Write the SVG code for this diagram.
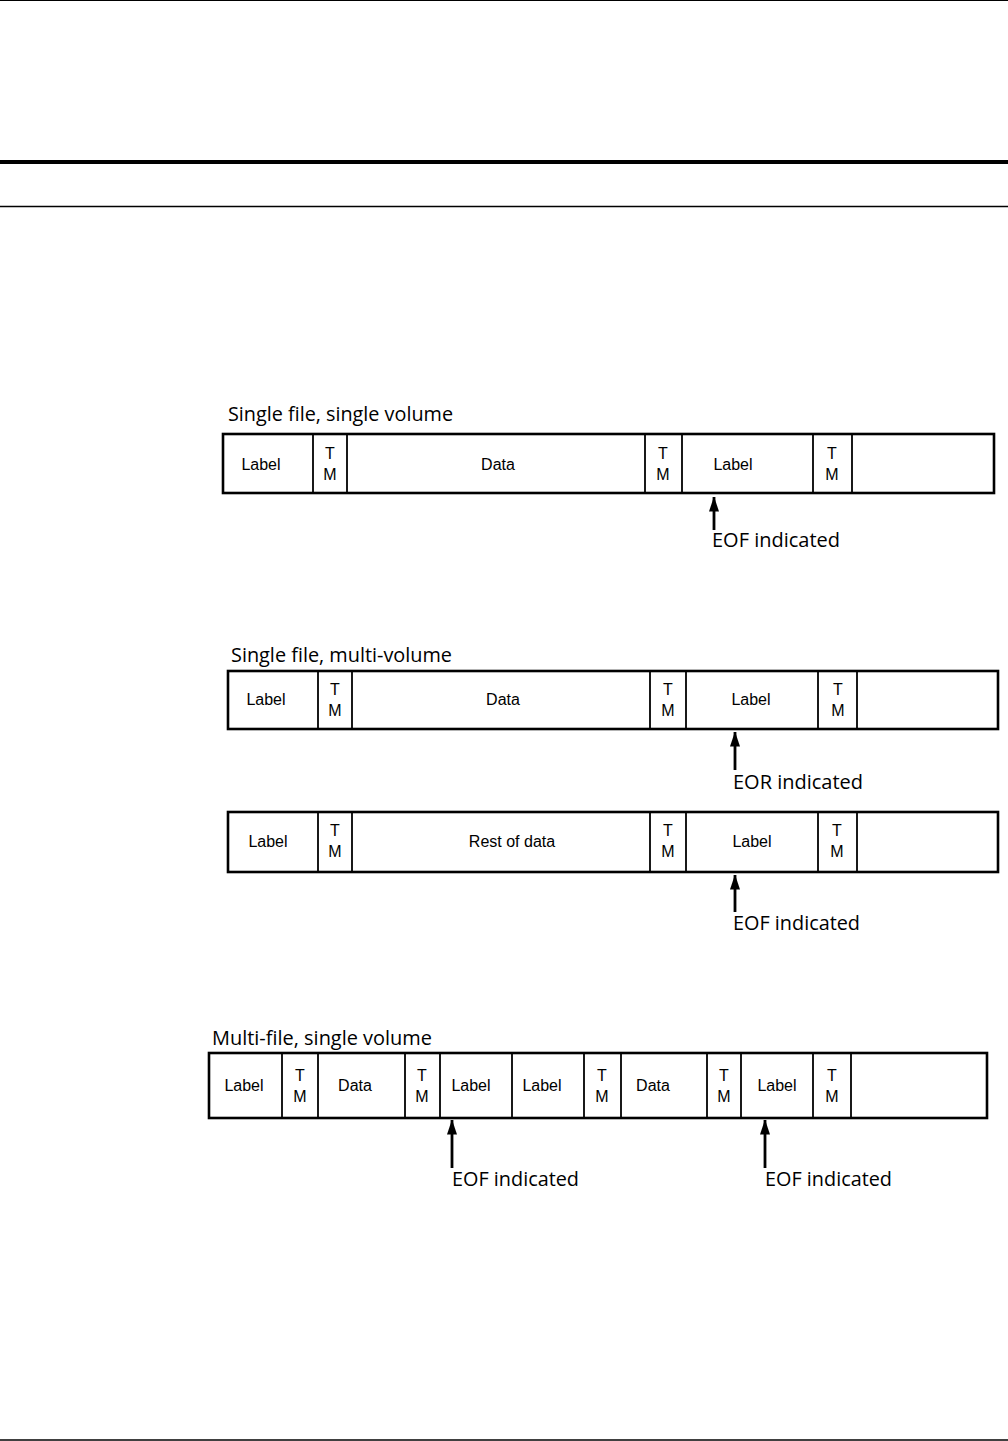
<svg xmlns="http://www.w3.org/2000/svg" width="1008" height="1441" viewBox="0 0 1008 1441">
<style>
.box{fill:#fff;stroke:#000;stroke-width:2.6}
.div{stroke:#000;stroke-width:1.8}
.cell{font-family:"Liberation Sans",Arial,sans-serif;font-size:16px;fill:#000;text-anchor:middle}
.ttl{font-family:"Open Sans","Noto Sans",sans-serif;font-size:20px;fill:#000}
.arr{stroke:#000;stroke-width:2.8;fill:none}
</style>
<defs>
<marker id="ah" markerWidth="15" markerHeight="11" refX="14.5" refY="5.5" orient="auto" markerUnits="userSpaceOnUse" viewBox="0 0 15 11">
<path d="M0 0.5 L15 5.5 L0 10.5 Z" fill="#000"/>
</marker>
</defs>
<rect width="1008" height="1441" fill="#fff"/>
<g id="rules">
<line x1="0" y1="0.5" x2="1008" y2="0.5" stroke="#000" stroke-width="1.2"/>
<line x1="0" y1="162" x2="1008" y2="162" stroke="#000" stroke-width="4"/>
<line x1="0" y1="206.5" x2="1008" y2="206.5" stroke="#000" stroke-width="1.3"/>
<line x1="0" y1="1440" x2="1008" y2="1440" stroke="#000" stroke-width="1.5"/>
</g>

<g id="tape1">
<text class="ttl" x="228" y="421" textLength="225" lengthAdjust="spacingAndGlyphs">Single file, single volume</text>
<rect class="box" x="223" y="434" width="771" height="59"/>
<line class="div" x1="313" y1="434" x2="313" y2="493"/>
<line class="div" x1="347" y1="434" x2="347" y2="493"/>
<line class="div" x1="645" y1="434" x2="645" y2="493"/>
<line class="div" x1="682" y1="434" x2="682" y2="493"/>
<line class="div" x1="813" y1="434" x2="813" y2="493"/>
<line class="div" x1="852" y1="434" x2="852" y2="493"/>
<text class="cell" x="261" y="470">Label</text>
<text class="cell" x="330" y="459">T</text><text class="cell" x="330" y="480">M</text>
<text class="cell" x="498" y="470">Data</text>
<text class="cell" x="663" y="459">T</text><text class="cell" x="663" y="480">M</text>
<text class="cell" x="733" y="470">Label</text>
<text class="cell" x="832" y="459">T</text><text class="cell" x="832" y="480">M</text>
</g>

<g id="tape2">
<text class="ttl" x="231" y="662" textLength="221" lengthAdjust="spacingAndGlyphs">Single file, multi-volume</text>
<rect class="box" x="228" y="671" width="770" height="58"/>
<line class="div" x1="318" y1="671" x2="318" y2="729"/>
<line class="div" x1="352" y1="671" x2="352" y2="729"/>
<line class="div" x1="650" y1="671" x2="650" y2="729"/>
<line class="div" x1="686" y1="671" x2="686" y2="729"/>
<line class="div" x1="818" y1="671" x2="818" y2="729"/>
<line class="div" x1="857" y1="671" x2="857" y2="729"/>
<text class="cell" x="266" y="705">Label</text>
<text class="cell" x="335" y="695">T</text><text class="cell" x="335" y="716">M</text>
<text class="cell" x="503" y="705">Data</text>
<text class="cell" x="668" y="695">T</text><text class="cell" x="668" y="716">M</text>
<text class="cell" x="751" y="705">Label</text>
<text class="cell" x="838" y="695">T</text><text class="cell" x="838" y="716">M</text>
</g>

<g id="tape3">
<rect class="box" x="228" y="812" width="770" height="60"/>
<line class="div" x1="318" y1="812" x2="318" y2="872"/>
<line class="div" x1="352" y1="812" x2="352" y2="872"/>
<line class="div" x1="650" y1="812" x2="650" y2="872"/>
<line class="div" x1="686" y1="812" x2="686" y2="872"/>
<line class="div" x1="818" y1="812" x2="818" y2="872"/>
<line class="div" x1="857" y1="812" x2="857" y2="872"/>
<text class="cell" x="268" y="847">Label</text>
<text class="cell" x="335" y="836">T</text><text class="cell" x="335" y="857">M</text>
<text class="cell" x="512" y="847">Rest of data</text>
<text class="cell" x="668" y="836">T</text><text class="cell" x="668" y="857">M</text>
<text class="cell" x="752" y="847">Label</text>
<text class="cell" x="837" y="836">T</text><text class="cell" x="837" y="857">M</text>
</g>

<g id="tape4">
<text class="ttl" x="212" y="1045" textLength="220" lengthAdjust="spacingAndGlyphs">Multi-file, single volume</text>
<rect class="box" x="209" y="1053" width="778" height="65"/>
<line class="div" x1="282" y1="1053" x2="282" y2="1118"/>
<line class="div" x1="318" y1="1053" x2="318" y2="1118"/>
<line class="div" x1="405" y1="1053" x2="405" y2="1118"/>
<line class="div" x1="440" y1="1053" x2="440" y2="1118"/>
<line class="div" x1="512" y1="1053" x2="512" y2="1118"/>
<line class="div" x1="584" y1="1053" x2="584" y2="1118"/>
<line class="div" x1="621" y1="1053" x2="621" y2="1118"/>
<line class="div" x1="707" y1="1053" x2="707" y2="1118"/>
<line class="div" x1="741" y1="1053" x2="741" y2="1118"/>
<line class="div" x1="813" y1="1053" x2="813" y2="1118"/>
<line class="div" x1="851" y1="1053" x2="851" y2="1118"/>
<text class="cell" x="244" y="1091">Label</text>
<text class="cell" x="300" y="1081">T</text><text class="cell" x="300" y="1102">M</text>
<text class="cell" x="355" y="1091">Data</text>
<text class="cell" x="422" y="1081">T</text><text class="cell" x="422" y="1102">M</text>
<text class="cell" x="471" y="1091">Label</text>
<text class="cell" x="542" y="1091">Label</text>
<text class="cell" x="602" y="1081">T</text><text class="cell" x="602" y="1102">M</text>
<text class="cell" x="653" y="1091">Data</text>
<text class="cell" x="724" y="1081">T</text><text class="cell" x="724" y="1102">M</text>
<text class="cell" x="777" y="1091">Label</text>
<text class="cell" x="832" y="1081">T</text><text class="cell" x="832" y="1102">M</text>
</g>

<g id="connectors">
<line class="arr" x1="714" y1="530" x2="714" y2="497" marker-end="url(#ah)"/>
<line class="arr" x1="735" y1="770" x2="735" y2="732" marker-end="url(#ah)"/>
<line class="arr" x1="735" y1="912" x2="735" y2="875" marker-end="url(#ah)"/>
<line class="arr" x1="452" y1="1168" x2="452" y2="1120" marker-end="url(#ah)"/>
<line class="arr" x1="765" y1="1168" x2="765" y2="1120" marker-end="url(#ah)"/>
</g>

<g id="annotations">
<text class="ttl" x="712" y="547" textLength="128" lengthAdjust="spacingAndGlyphs">EOF indicated</text>
<text class="ttl" x="733" y="789" textLength="130" lengthAdjust="spacingAndGlyphs">EOR indicated</text>
<text class="ttl" x="733" y="930" textLength="127" lengthAdjust="spacingAndGlyphs">EOF indicated</text>
<text class="ttl" x="452" y="1186" textLength="127" lengthAdjust="spacingAndGlyphs">EOF indicated</text>
<text class="ttl" x="765" y="1186" textLength="127" lengthAdjust="spacingAndGlyphs">EOF indicated</text>
</g>
</svg>
